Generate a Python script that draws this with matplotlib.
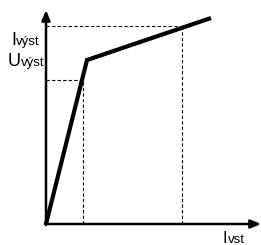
import matplotlib.pyplot as plt

plt.rcParams['font.family'] = ['Liberation Sans', 'DejaVu Sans']

# characteristic curve (schematic units, origin at axis corner)
curve_x = [0, 41, 165]
curve_y = [0, 164, 206]

# guide levels
level_i_out = 198
level_u_out = 144
x_at_u = 37
x_at_i = 136

fig = plt.figure(figsize=(2.61, 2.45), dpi=100)
ax = fig.add_axes([0, 0, 1, 1])
ax.set_xlim(-46, 215)
ax.set_ylim(-21, 224)
ax.axis('off')

# dashed guides
ax.plot([0, x_at_i], [level_i_out, level_i_out], 'k--', lw=0.8, dashes=(3, 2))
ax.plot([x_at_i, x_at_i], [0, level_i_out], 'k--', lw=0.8, dashes=(3, 2))
ax.plot([0, x_at_u], [level_u_out, level_u_out], 'k--', lw=0.8, dashes=(3, 2))
ax.plot([x_at_u, x_at_u], [0, level_u_out], 'k--', lw=0.8, dashes=(3, 2))

# axes with arrows
arrow = dict(arrowstyle='-|>,head_length=0.6,head_width=0.25', color='k', lw=1.8,
             shrinkA=0, shrinkB=0)
ax.annotate('', xy=(215, 0), xytext=(-1, 0), arrowprops=arrow)
ax.annotate('', xy=(0, 214), xytext=(0, -1), arrowprops=arrow)

# curve
ax.plot(curve_x, curve_y, color='k', lw=3, solid_capstyle='butt', solid_joinstyle='miter')

# labels
ax.text(-35, 179, 'I', fontsize=13, ha='left', va='baseline')
ax.text(-30, 179, 'výst', fontsize=9.5, ha='left', va='baseline')
ax.text(-38, 158, 'U', fontsize=13, ha='left', va='baseline')
ax.text(-25, 158, 'výst', fontsize=9.5, ha='left', va='baseline')
ax.text(177, -19, 'I', fontsize=12, ha='left', va='baseline')
ax.text(182, -19, 'vst', fontsize=9.5, ha='left', va='baseline')

fig.savefig('out.png', dpi=100)
